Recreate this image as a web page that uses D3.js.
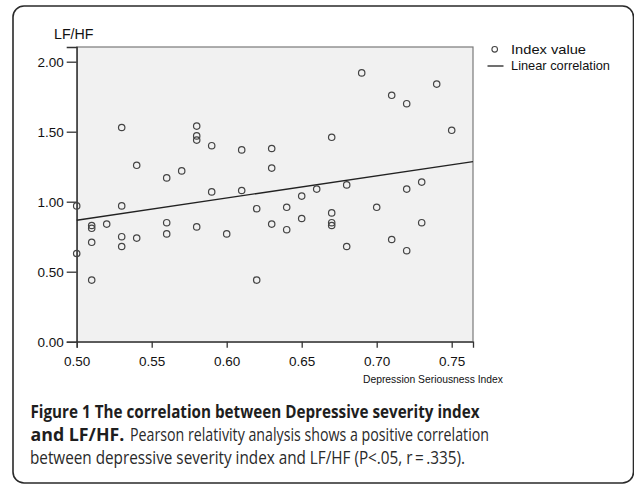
<!DOCTYPE html>
<html><head><meta charset="utf-8">
<script src="https://cdn.jsdelivr.net/npm/d3@7/dist/d3.min.js"></script>
<style>html,body{margin:0;padding:0;background:#fff;}svg{display:block;}</style>
</head><body>
<svg id="chart" width="634" height="486"></svg>
<script>
// Data: depression seriousness index (x) and LF/HF (y)
const xValues = [0.50,0.50, 0.51,0.51,0.51,0.51, 0.52, 0.53,0.53,0.53,0.53, 0.54,0.54,
  0.56,0.56,0.56, 0.57, 0.58,0.58,0.58,0.58, 0.59,0.59, 0.60, 0.61,0.61, 0.62,0.62,
  0.63,0.63,0.63, 0.64,0.64, 0.65,0.65, 0.66, 0.67,0.67,0.67,0.67, 0.68,0.68, 0.69,
  0.70, 0.71,0.71, 0.72,0.72,0.72, 0.73,0.73, 0.74, 0.75];
const yValues = [0.97,0.63, 0.83,0.81,0.71,0.44, 0.84, 1.53,0.97,0.75,0.68, 1.26,0.74,
  1.17,0.85,0.77, 1.22, 1.54,1.47,1.44,0.82, 1.40,1.07, 0.77, 1.37,1.08, 0.95,0.44,
  1.38,1.24,0.84, 0.96,0.80, 1.04,0.88, 1.09, 1.46,0.92,0.85,0.83, 1.12,0.68, 1.92,
  0.96, 1.76,0.73, 1.70,1.09,0.65, 1.14,0.85, 1.84, 1.51];
const xTicks = [0.50,0.55,0.60,0.65,0.70,0.75];
const yTicks = [0.00,0.50,1.00,1.50,2.00];
const legendLabels = ["Index value","Linear correlation"];
const yTitle = "LF/HF";
const xTitle = "Depression Seriousness Index";
const captionBold1 = "Figure 1 The correlation between Depressive severity index";
const captionBold2 = "and LF/HF.";
const captionText2 = "Pearson relativity analysis shows a positive correlation";
const captionText3 = "between depressive severity index and LF/HF (P<.05, r\u2009=\u2009.335).";

const svg = d3.select("#chart");
const plot = {left: 76.7, right: 473, top: 47, bottom: 341.7};
const x = d3.scaleLinear().domain([0.5, 0.7642]).range([plot.left, plot.right]);
const y = d3.scaleLinear().domain([0, 2.105]).range([plot.bottom, plot.top]);

// outer frame
svg.append("rect").attr("x",13).attr("y",6).attr("width",620.5).attr("height",477)
  .attr("rx",11).attr("ry",11).attr("fill","none").attr("stroke","#2a2a2a").attr("stroke-width",1.6);

// plot background
svg.append("rect").attr("x",plot.left).attr("y",plot.top)
  .attr("width",plot.right-plot.left).attr("height",plot.bottom-plot.top)
  .attr("fill","#f1f1f1").attr("stroke","#7a7a7a").attr("stroke-width",1.2);

const fontAxis = "'Liberation Sans', Arial, sans-serif";

// axes
const yAxis = d3.axisLeft(y).tickValues(yTicks).tickFormat(d3.format(".2f")).tickSize(10).tickPadding(3);
const gy = svg.append("g").attr("transform",`translate(${plot.left},0)`).call(yAxis);
const xAxis = d3.axisBottom(x).tickValues(xTicks).tickFormat(d3.format(".2f")).tickSize(6).tickPadding(9);
const gx = svg.append("g").attr("transform",`translate(0,${plot.bottom})`).call(xAxis);
[gy,gx].forEach(g=>{
  g.select(".domain").attr("stroke","#333").attr("stroke-width",1.3);
  g.selectAll(".tick line").attr("stroke","#333").attr("stroke-width",1.3);
  g.selectAll(".tick text").attr("fill","#111").style("font-family",fontAxis).style("font-size","13.5px");
});
gy.selectAll(".tick text").attr("dy","0.36em");

// regression line (least squares from data)
const mx = d3.mean(xValues), my = d3.mean(yValues);
let sxy=0, sxx=0;
xValues.forEach((v,i)=>{ sxy += (v-mx)*(yValues[i]-my); sxx += (v-mx)*(v-mx); });
const slope = sxy/sxx, intercept = my - slope*mx;
const xd = x.domain();
svg.append("line")
  .attr("x1",x(xd[0])).attr("y1",y(intercept+slope*xd[0]))
  .attr("x2",x(xd[1])).attr("y2",y(intercept+slope*xd[1]))
  .attr("stroke","#222").attr("stroke-width",1.3);

// points
svg.append("g").selectAll("circle").data(xValues).join("circle")
  .attr("cx",(d)=>x(d)).attr("cy",(d,i)=>y(yValues[i])).attr("r",3.2)
  .attr("fill","none").attr("stroke","#444").attr("stroke-width",1.2);

// titles
svg.append("text").attr("x",54).attr("y",38.5).text(yTitle)
  .style("font-family",fontAxis).style("font-size","15px").attr("fill","#111")
  .attr("textLength",39.5).attr("lengthAdjust","spacingAndGlyphs");
svg.append("text").attr("x",503).attr("y",383).attr("text-anchor","end").text(xTitle)
  .style("font-family",fontAxis).style("font-size","10.5px").attr("fill","#111")
  .attr("textLength",140).attr("lengthAdjust","spacingAndGlyphs");

// legend
svg.append("circle").attr("cx",494.7).attr("cy",49.3).attr("r",2.8)
  .attr("fill","none").attr("stroke","#444").attr("stroke-width",1.1);
svg.append("line").attr("x1",487.5).attr("x2",503.5).attr("y1",66).attr("y2",66)
  .attr("stroke","#222").attr("stroke-width",1.3);
svg.append("text").attr("x",511).attr("y",54.3).text(legendLabels[0])
  .style("font-family",fontAxis).style("font-size","13.5px").attr("fill","#111")
  .attr("textLength",75).attr("lengthAdjust","spacingAndGlyphs");
svg.append("text").attr("x",511).attr("y",70.3).text(legendLabels[1])
  .style("font-family",fontAxis).style("font-size","13.5px").attr("fill","#111")
  .attr("textLength",99).attr("lengthAdjust","spacingAndGlyphs");

// caption
const capFont = "'Open Sans', 'Noto Sans', sans-serif";
svg.append("text").attr("x",30.5).attr("y",417.5).text(captionBold1)
  .style("font-family",capFont).style("font-size","17.8px").style("font-weight","bold").attr("fill","#1e1e1e")
  .attr("textLength",449).attr("lengthAdjust","spacingAndGlyphs");
svg.append("text").attr("x",30.5).attr("y",440.5).text(captionBold2)
  .style("font-family",capFont).style("font-size","17.8px").style("font-weight","bold").attr("fill","#1e1e1e");
svg.append("text").attr("x",130).attr("y",440.5).text(captionText2)
  .style("font-family",capFont).style("font-size","17.8px").attr("fill","#2a2a2a")
  .attr("textLength",359).attr("lengthAdjust","spacingAndGlyphs");
svg.append("text").attr("x",30).attr("y",463.5).text(captionText3)
  .style("font-family",capFont).style("font-size","17.8px").attr("fill","#2a2a2a")
  .attr("textLength",435).attr("lengthAdjust","spacingAndGlyphs");
</script>
</body></html>
